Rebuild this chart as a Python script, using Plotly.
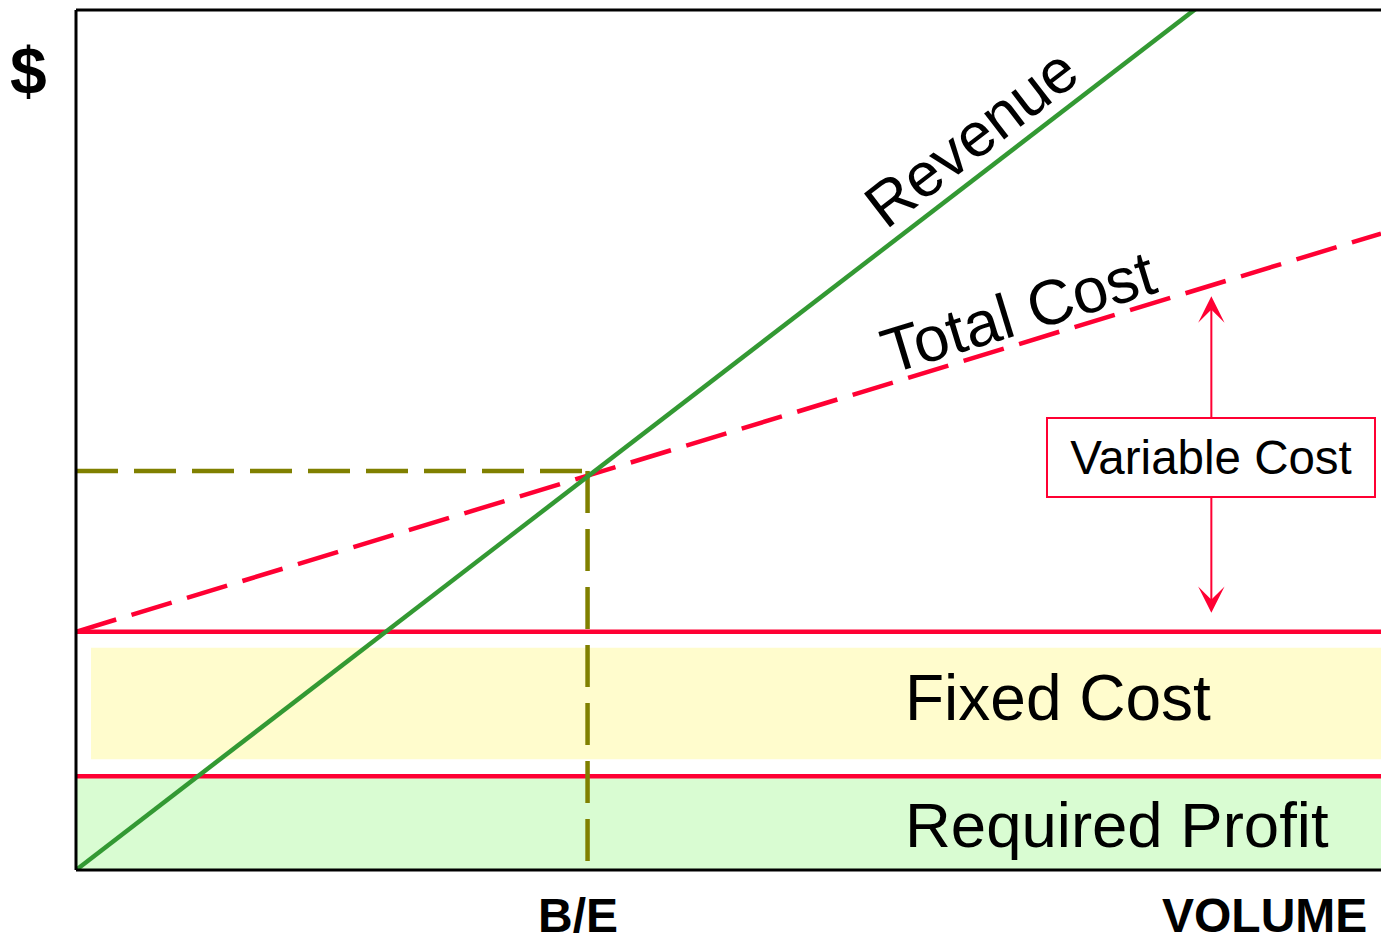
import plotly.graph_objects as go

# ---- data (chart units: volume 0..100, dollars 0..100) ----
volume_range = [0, 100]
dollar_range = [0, 100]
revenue_x = [0, 100]
revenue_y = [0, 116.7]
total_cost_x = [0, 100]
total_cost_y = [27.7, 74.0]
fixed_cost = 27.7
required_profit = 10.9
break_even_x = 39.2
break_even_y = 46.4
vc_arrow_x = 87.0
axis_labels = ["B/E", "VOLUME"]
axis_label_x = [38.5, 91.1]

RED = "#FF0033"
GREEN = "#339933"
OLIVE = "#808000"
FONT = "Liberation Sans, Arial, sans-serif"

W, H = 1381, 942
ML, MR, MT, MB = 76, 0, 10, 72
px_x = (W - ML - MR) / (volume_range[1] - volume_range[0])
px_y = (H - MT - MB) / (dollar_range[1] - dollar_range[0])

fig = go.Figure()

# bands
fig.add_shape(type="rect", xref="x", yref="y", x0=volume_range[0], x1=volume_range[1],
              y0=0, y1=required_profit, fillcolor="#D9FCD2", line_width=0, layer="below")
fig.add_shape(type="rect", xref="x", yref="y", x0=volume_range[0] + 15 / px_x, x1=volume_range[1],
              y0=required_profit + 17 / px_y, y1=fixed_cost - 16 / px_y,
              fillcolor="#FFFCCD", line_width=0, layer="below")

# fixed cost / required profit lines
fig.add_trace(go.Scatter(x=volume_range, y=[required_profit] * 2, mode="lines",
                         line=dict(color=RED, width=4.5), hoverinfo="skip"))
fig.add_trace(go.Scatter(x=volume_range, y=[fixed_cost] * 2, mode="lines",
                         line=dict(color=RED, width=4.5), hoverinfo="skip"))
# total cost
fig.add_trace(go.Scatter(x=total_cost_x, y=total_cost_y, mode="lines",
                         line=dict(color=RED, width=4.5, dash="42px,16px"), hoverinfo="skip"))
# break-even guides
fig.add_trace(go.Scatter(x=[0, break_even_x], y=[break_even_y, break_even_y], mode="lines",
                         line=dict(color=OLIVE, width=4.5, dash="42px,16px"), hoverinfo="skip"))
fig.add_trace(go.Scatter(x=[break_even_x, break_even_x], y=[break_even_y, 0], mode="lines",
                         line=dict(color=OLIVE, width=4.5, dash="42px,16px"), hoverinfo="skip"))
# revenue
fig.add_trace(go.Scatter(x=revenue_x, y=revenue_y, mode="lines",
                         line=dict(color=GREEN, width=4.5), hoverinfo="skip"))

# borders
for x0, y0, x1, y1 in [(0, 1, 1, 1), (0, 0, 0, 1), (0, 0, 1, 0)]:
    fig.add_shape(type="line", xref="paper", yref="paper", x0=x0, y0=y0, x1=x1, y1=y1,
                  line=dict(color="black", width=3), layer="above")

# variable cost arrows
tc_at_arrow = total_cost_y[0] + (total_cost_y[1] - total_cost_y[0]) * vc_arrow_x / 100
box_y = (tc_at_arrow + fixed_cost) / 2 + 0.1
for tip in [tc_at_arrow - 11 / px_y, fixed_cost + 19 / px_y]:
    fig.add_annotation(x=vc_arrow_x, y=tip, ax=vc_arrow_x, ay=box_y, axref="x", ayref="y",
                       xref="x", yref="y", text="", showarrow=True, arrowhead=3,
                       arrowsize=2.2, arrowwidth=2, arrowcolor=RED)
fig.add_annotation(x=vc_arrow_x, y=box_y, xref="x", yref="y", text="Variable Cost",
                   showarrow=False, font=dict(family=FONT, size=47.5, color="black"),
                   bgcolor="white", bordercolor=RED, borderwidth=2, width=324, height=75)

# line labels
fig.add_annotation(x=68.6, y=85.2, xref="x", yref="y", text="Revenue", showarrow=False,
                   textangle=-37.6, font=dict(family=FONT, size=62, color="black"))
fig.add_annotation(x=72.2, y=64.9, xref="x", yref="y", text="Total Cost", showarrow=False,
                   textangle=-17, font=dict(family=FONT, size=63.5, color="black"))
fig.add_annotation(x=63.4, y=(fixed_cost + required_profit) / 2 + 6 / px_y, xref="x", yref="y",
                   text="Fixed Cost", showarrow=False, xanchor="left",
                   font=dict(family=FONT, size=64, color="black"))
fig.add_annotation(x=63.4, y=required_profit / 2 - 2 / px_y, xref="x", yref="y",
                   text="Required Profit", showarrow=False, xanchor="left",
                   font=dict(family=FONT, size=63.5, color="black"))

# axis labels
for lbl, lx in zip(axis_labels, axis_label_x):
    fig.add_annotation(x=lx, y=0, xref="x", yref="paper", yanchor="top", yshift=-17,
                       text=lbl, showarrow=False,
                       font=dict(family=FONT, size=48, color="black", weight="bold"))
fig.add_annotation(x=0, y=1, xref="paper", yref="paper", xshift=-48, yshift=-61,
                   xanchor="center", yanchor="middle", text="$", showarrow=False,
                   font=dict(family=FONT, size=66, color="black", weight="bold"))

fig.update_layout(
    width=W, height=H, margin=dict(l=ML, r=MR, t=MT, b=MB),
    paper_bgcolor="white", plot_bgcolor="white", showlegend=False,
    xaxis=dict(range=volume_range, showgrid=False, zeroline=False, showticklabels=False,
               showline=False, fixedrange=True),
    yaxis=dict(range=dollar_range, showgrid=False, zeroline=False, showticklabels=False,
               showline=False, fixedrange=True),
)
fig.write_html("out.html")
